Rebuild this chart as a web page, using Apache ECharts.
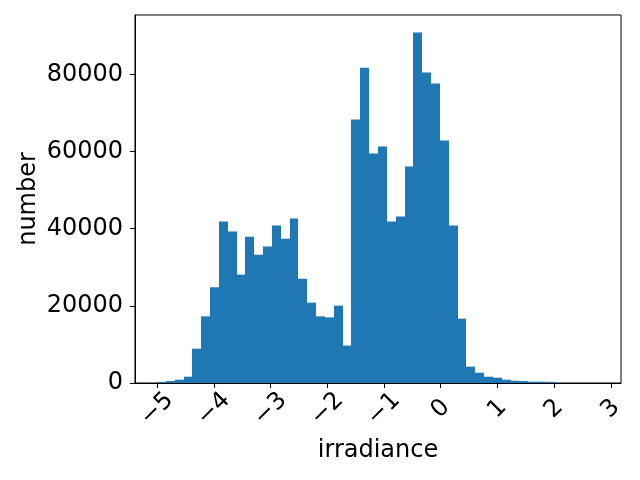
<!DOCTYPE html>
<html>
<head>
<meta charset="utf-8">
<title>irradiance histogram</title>
<script src="https://cdn.jsdelivr.net/npm/echarts@6/dist/echarts.min.js"></script>
<style>
  html, body { margin: 0; padding: 0; background: #fff; }
  #chart { width: 640px; height: 480px; }
</style>
</head>
<body>
<div id="chart"></div>
<script>
// histogram definition: 50 equal bins between the data min and max
const dataMin = -5.0;
const dataMax = 2.79;
const binCount = 50;

// counts per bin
const counts = [
  300, 500, 850, 1630, 8890, 17270, 24790, 41820, 39230, 28080,
  37930, 33260, 35340, 40790, 37410, 42600, 27040, 20820, 17270, 17010,
  20040, 9700, 68260, 81660, 59450, 61260, 41820, 43120, 56080, 90820,
  80450, 77600, 62830, 40790, 16670, 4230, 2670, 1630, 1370, 860,
  600, 500, 340, 340, 300, 0, 0, 0, 0, 0
];

// tick labels
const xTicks = [-5, -4, -3, -2, -1, 0, 1, 2, 3];
const yTicks = [0, 20000, 40000, 60000, 80000];

const binWidth = (dataMax - dataMin) / binCount;
const bars = counts.map((c, i) => [dataMin + i * binWidth, dataMin + (i + 1) * binWidth, c]);

// matplotlib style 5% margins
const span = dataMax - dataMin;
const xMin = dataMin - 0.05 * span;
const xMax = dataMax + 0.05 * span;
const yMax = Math.max(...counts) * 1.05;

const fontFamily = "DejaVu Sans";
const fontSize = 24;
const minus = (v) => (v < 0 ? "\u2212" + Math.abs(v) : String(v));

const chart = echarts.init(document.getElementById("chart"));

const option = {
  animation: false,
  backgroundColor: "#fff",
  grid: {
    left: 135, right: 19, top: 15, bottom: 97,
    show: true, borderColor: "#000", borderWidth: 1, backgroundColor: "transparent",
  },
  xAxis: {
    type: "value",
    min: xMin,
    max: xMax,
    name: "irradiance",
    nameLocation: "middle",
    nameGap: 56,
    nameMoveOverlap: false,
    nameTextStyle: { fontFamily, fontSize, color: "#000" },
    splitLine: { show: false },
    axisLine: { onZero: false, lineStyle: { color: "#000", width: 1 } },
    axisTick: { length: 5, customValues: xTicks, lineStyle: { color: "#000" } },
    axisLabel: {
      customValues: xTicks,
      formatter: minus,
      rotate: 45,
      align: "center",
      verticalAlign: "middle",
      margin: 26,
      fontFamily, fontSize, color: "#000",
    },
  },
  yAxis: {
    type: "value",
    min: 0,
    max: yMax,
    name: "number",
    nameLocation: "middle",
    nameGap: 94,
    nameMoveOverlap: false,
    nameTextStyle: { fontFamily, fontSize, color: "#000" },
    splitLine: { show: false },
    axisLine: { show: true, onZero: false, lineStyle: { color: "#000", width: 1 } },
    axisTick: { show: true, length: 5, customValues: yTicks, lineStyle: { color: "#000" } },
    axisLabel: {
      customValues: yTicks,
      formatter: (v) => String(v),
      margin: 12,
      fontFamily, fontSize, color: "#000",
    },
  },
  series: [
    {
      type: "custom",
      data: bars,
      encode: { x: [0, 1], y: 2 },
      renderItem: (params, api) => {
        const p0 = api.coord([api.value(0), 0]);
        const p1 = api.coord([api.value(1), api.value(2)]);
        // snap edges to whole pixels so neighbouring bins meet without seams
        const x0 = Math.round(p0[0]);
        const x1 = Math.round(p1[0]);
        return {
          type: "rect",
          shape: { x: x0, y: p1[1], width: x1 - x0, height: p0[1] - p1[1] },
          style: { fill: "#1f77b4" },
        };
      },
    },
  ],
};

chart.setOption(option);
</script>
</body>
</html>
